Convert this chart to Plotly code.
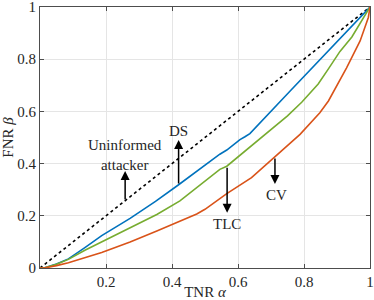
import plotly.graph_objects as go

# Data (TNR alpha, FNR beta)
ds_alpha = [0.0, 0.012, 0.05, 0.086, 0.136, 0.187, 0.273, 0.35, 0.419, 0.545, 0.566, 0.606, 0.621, 0.636, 0.758, 0.801, 1.0]
ds_beta = [0.0, 0.0, 0.015, 0.035, 0.078, 0.124, 0.19, 0.255, 0.318, 0.436, 0.452, 0.492, 0.503, 0.515, 0.678, 0.735, 1.0]

tlc_alpha = [0.0, 0.012, 0.05, 0.086, 0.136, 0.187, 0.273, 0.354, 0.424, 0.545, 0.566, 0.621, 0.7, 0.75, 0.793, 0.843, 0.875, 0.909, 0.945, 0.97, 1.0]
tlc_beta = [0.0, 0.0, 0.014, 0.033, 0.068, 0.1, 0.152, 0.205, 0.257, 0.378, 0.39, 0.448, 0.53, 0.583, 0.635, 0.705, 0.765, 0.83, 0.885, 0.935, 1.0]

cv_alpha = [0.0, 0.012, 0.05, 0.086, 0.187, 0.273, 0.354, 0.4, 0.475, 0.5, 0.566, 0.641, 0.712, 0.788, 0.848, 0.874, 0.929, 0.97, 0.995, 1.0]
cv_beta = [0.0, 0.0, 0.009, 0.02, 0.059, 0.1, 0.142, 0.166, 0.207, 0.225, 0.285, 0.346, 0.425, 0.512, 0.595, 0.64, 0.767, 0.87, 0.96, 1.0]

diag = [0.0, 1.0]

x_ticks = [0.2, 0.4, 0.6, 0.8, 1.0]
x_tick_text = ["0.2", "0.4", "0.6", "0.8", "1"]
y_ticks = [0.0, 0.2, 0.4, 0.6, 0.8, 1.0]
y_tick_text = ["0", "0.2", "0.4", "0.6", "0.8", "1"]

# annotations: text, text position, arrow tail, arrow head
labels = ["Uninformed<br>attacker", "DS", "TLC", "CV"]
label_pos = [(0.258, 0.433), (0.42, 0.525), (0.568, 0.170), (0.717, 0.279)]
arrow_tail = [(0.258, 0.257), (0.42, 0.318), (0.567, 0.39), (0.712, 0.425)]
arrow_head = [(0.258, 0.372), (0.42, 0.49), (0.567, 0.212), (0.712, 0.322)]

FONT = "Liberation Serif"
TXT = "#262626"

fig = go.Figure()
fig.add_trace(go.Scatter(x=diag, y=diag, mode="lines",
                         line=dict(color="black", width=1.6, dash="dot"), showlegend=False))
fig.add_trace(go.Scatter(x=ds_alpha, y=ds_beta, mode="lines",
                         line=dict(color="#0072BD", width=1.6), showlegend=False))
fig.add_trace(go.Scatter(x=tlc_alpha, y=tlc_beta, mode="lines",
                         line=dict(color="#77AC30", width=1.6), showlegend=False))
fig.add_trace(go.Scatter(x=cv_alpha, y=cv_beta, mode="lines",
                         line=dict(color="#D95319", width=1.6), showlegend=False))

for txt, (tx, ty), (ax, ay), (hx, hy) in zip(labels, label_pos, arrow_tail, arrow_head):
    fig.add_annotation(x=hx, y=hy, ax=ax, ay=ay, xref="x", yref="y", axref="x", ayref="y",
                       showarrow=True, arrowhead=2, arrowsize=1.2, arrowwidth=1.5,
                       arrowcolor="black", text="")
    fig.add_annotation(x=tx, y=ty, xref="x", yref="y", text=txt, showarrow=False,
                       font=dict(family=FONT, size=15, color=TXT), align="center")

axis_common = dict(showgrid=True, gridcolor="#e5e5e5", gridwidth=1,
                   showline=True, linecolor="#4d4d4d", linewidth=1, mirror="ticks",
                   ticks="inside", ticklen=4, tickcolor="#4d4d4d",
                   zeroline=False, ticklabeloverflow="allow",
                   tickfont=dict(family=FONT, size=15, color=TXT))

fig.update_xaxes(range=[0, 1], tickvals=x_ticks, ticktext=x_tick_text,
                 title=dict(text="TNR <i>α</i>", font=dict(family=FONT, size=15, color=TXT),
                            standoff=0), **axis_common)
fig.update_yaxes(range=[0, 1], tickvals=y_ticks, ticktext=y_tick_text,
                 title=dict(text="FNR <i>β</i>", font=dict(family=FONT, size=15, color=TXT),
                            standoff=2), **axis_common)

fig.update_layout(width=374, height=300, margin=dict(l=40, r=4, t=7, b=32, autoexpand=False),
                  plot_bgcolor="white", paper_bgcolor="white")

fig.write_html("out.html", config={"displayModeBar": False},
               post_script="document.body.style.margin='0';document.body.style.overflow='hidden';")
